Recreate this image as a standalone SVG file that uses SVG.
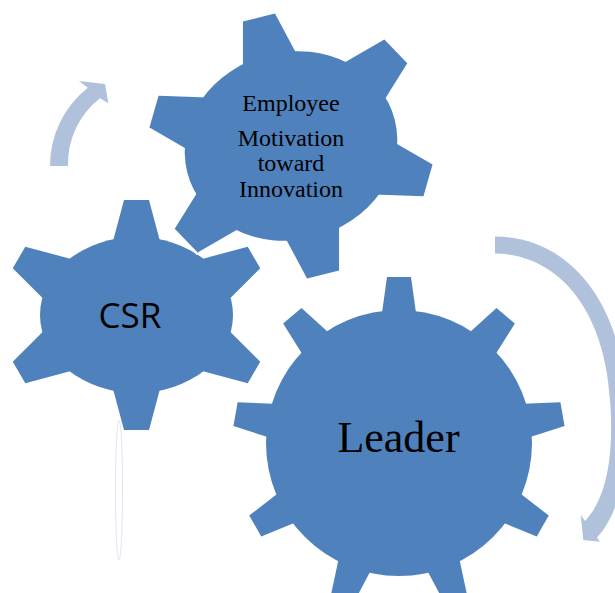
<svg xmlns="http://www.w3.org/2000/svg" width="615" height="593" viewBox="0 0 615 593">
<style>
.gear{fill:#4F81BD}
.halo{fill:#fff;stroke:#fff;stroke-width:5;stroke-linejoin:round}
.arrow{fill:#B0C1DB}
.serif{font-family:"Liberation Serif","Times New Roman",serif;fill:#000;text-anchor:middle}
.sans{font-family:"Open Sans","Liberation Sans",sans-serif;fill:#000;text-anchor:middle}
</style>
<defs>
<polygon id="tL" points="-18,-123 -12,-166 12,-166 18,-123"/>
<polygon id="tE" points="-28.5,10 -16.5,-38 16.5,-38 28.5,10"/>
<polygon id="tC" points="-25.2,10 -12.5,-37.5 12.5,-37.5 25.2,10"/>
<g id="eg">
<ellipse rx="107" ry="94"/>
<use href="#tE" transform="translate(0,-94.5)"/>
<use href="#tE" transform="translate(91.7,-47.5) rotate(60)"/>
<use href="#tE" transform="translate(91.7,47.5) rotate(120)"/>
<use href="#tE" transform="translate(0,94.5) rotate(180)"/>
<use href="#tE" transform="translate(-91.7,47.5) rotate(240)"/>
<use href="#tE" transform="translate(-91.7,-47.5) rotate(300)"/>
</g>
</defs>
<g id="connectors">
<ellipse cx="119" cy="490" rx="3.5" ry="70" fill="none" stroke="#E0E6F1" stroke-width="1"/>
<path class="arrow" d="M50,166 A100,100 0 0 1 87.8,87.7 L79,81 L105,84 L108.3,103.3 L100,98.3 A83,83 0 0 0 68,166 Z"/>
<path class="arrow" d="M495,236.5 C565,237 620,295 626.5,400 C631,470 618,515 597,537.5 L600,541.7 L583.3,540 L580.7,515 L585,521 C603,502 615,465 610,400 C604,305 555,254 495,253.5 Z"/>
</g>
<g id="csr">
<g class="gear" transform="translate(136.5,315)">
<ellipse rx="96.5" ry="78"/>
<use href="#tC" transform="translate(0,-77.5)"/>
<use href="#tC" transform="translate(85,-38.75) rotate(60)"/>
<use href="#tC" transform="translate(85,38.75) rotate(120)"/>
<use href="#tC" transform="translate(0,77.5) rotate(180)"/>
<use href="#tC" transform="translate(-85,38.75) rotate(240)"/>
<use href="#tC" transform="translate(-85,-38.75) rotate(300)"/>
</g>
<text class="sans" x="130" y="328" font-size="35">CSR</text>
</g>
<g id="employee">
<g transform="translate(291,146) rotate(-14)">
<use href="#eg" class="halo"/>
<use href="#eg" class="gear"/>
</g>
<text class="serif" font-size="24"><tspan x="291" y="111">Employee</tspan><tspan x="291" y="146">Motivation</tspan><tspan x="291" y="171">toward</tspan><tspan x="291" y="197">Innovation</tspan></text>
</g>
<g id="leader">
<g class="gear" transform="translate(399,443)">
<circle r="133"/>
<use href="#tL"/>
<use href="#tL" transform="rotate(40)"/>
<use href="#tL" transform="rotate(80)"/>
<use href="#tL" transform="rotate(120)"/>
<use href="#tL" transform="rotate(160)"/>
<use href="#tL" transform="rotate(200)"/>
<use href="#tL" transform="rotate(240)"/>
<use href="#tL" transform="rotate(280)"/>
<use href="#tL" transform="rotate(320)"/>
</g>
<text class="serif" x="398.5" y="452" font-size="44">Leader</text>
</g>
</svg>
